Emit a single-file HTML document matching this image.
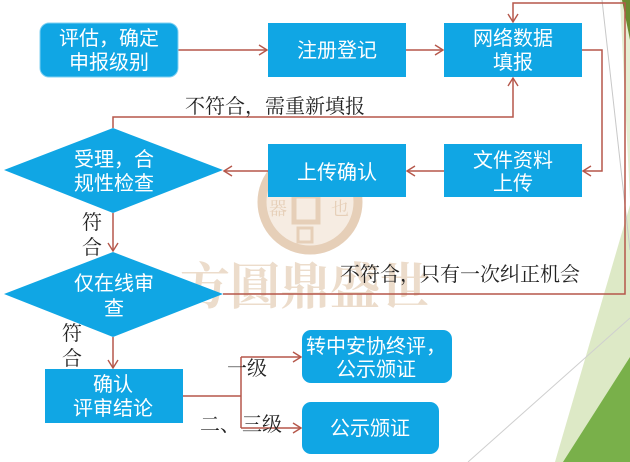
<!DOCTYPE html>
<html><head><meta charset="utf-8"><style>
html,body{margin:0;padding:0;background:#fff;}
svg{display:block;}
.w{font-family:"Liberation Sans","Noto Sans CJK SC",sans-serif;font-size:20px;fill:#fff;text-anchor:middle;}
.l{font-family:"Liberation Serif","Noto Serif CJK SC",serif;font-size:20px;fill:#222;}
</style></head><body>
<svg width="630" height="462" viewBox="0 0 630 462" xmlns="http://www.w3.org/2000/svg">
<defs>
<marker id="a" markerWidth="10" markerHeight="12" refX="9" refY="6" orient="auto" markerUnits="userSpaceOnUse">
<path d="M1,1 L9,6 L1,11" fill="none" stroke="#b5574a" stroke-width="1.4"/>
</marker>
</defs>
<!-- background decorations -->
<polygon points="630,205 630,462 555,462" fill="#dde9c6"/>
<polygon points="630,357 630,462 563,462" fill="#79b04a"/>
<polygon points="620,0 630,0 630,200" fill="#e6eed3"/>
<polygon points="622,0 630,0 630,40" fill="#6a8a30"/>
<line x1="602" y1="0" x2="630" y2="250" stroke="#c8c8c8" stroke-width="1"/>
<line x1="630" y1="318" x2="468" y2="462" stroke="#cfcfcf" stroke-width="1"/>
<!-- watermark -->
<circle cx="310" cy="202" r="48" fill="#f6ece2" stroke="#e6cfb8" stroke-width="9"/>
<rect x="294" y="196" width="24" height="26" fill="none" stroke="#e6cfb8" stroke-width="5"/>
<text x="278" y="215" font-family="Noto Serif CJK SC,serif" font-size="18" fill="#e6cfb8" text-anchor="middle">器</text>
<text x="340" y="215" font-family="Noto Serif CJK SC,serif" font-size="18" fill="#e6cfb8" text-anchor="middle">也</text>
<rect x="298" y="228" width="14" height="14" fill="none" stroke="#e6cfb8" stroke-width="3"/>
<text x="180" y="304" font-family="Noto Serif CJK SC,serif" font-size="50" font-weight="bold" fill="#ecdccb">方圓鼎盛世</text>
<!-- connectors -->
<g fill="none" stroke="#b5574a" stroke-width="1.5">
<line x1="178" y1="50" x2="267" y2="50" marker-end="url(#a)"/>
<line x1="406" y1="50" x2="443" y2="50" marker-end="url(#a)"/>
<polyline points="582,50 602,50 602,171 583,171" marker-end="url(#a)"/>
<line x1="444" y1="171" x2="407" y2="171" marker-end="url(#a)"/>
<line x1="268" y1="171" x2="224" y2="171" marker-end="url(#a)"/>
<polyline points="113,128 113,117 513,117 513,78" marker-end="url(#a)"/>
<line x1="113" y1="213" x2="113" y2="251" marker-end="url(#a)"/>
<polyline points="223,294 625,294 625,3 513,3 513,22" marker-end="url(#a)"/>
<line x1="113" y1="337" x2="113" y2="368" marker-end="url(#a)"/>
<polyline points="183,396 241,396"/>
<polyline points="241,357 241,428"/>
<line x1="241" y1="357" x2="301" y2="357" marker-end="url(#a)"/>
<line x1="241" y1="428" x2="301" y2="428" marker-end="url(#a)"/>
</g>
<!-- nodes -->
<rect x="40" y="23" width="138" height="54" rx="9" fill="#10a6e4" stroke="#7fd0f2" stroke-width="1"/>
<rect x="268" y="23" width="138" height="54" fill="#10a6e4"/>
<rect x="444" y="23" width="138" height="54" fill="#10a6e4"/>
<rect x="444" y="144" width="138" height="53" fill="#10a6e4"/>
<rect x="268" y="144" width="138" height="53" fill="#10a6e4"/>
<polygon points="4,170 113,128 223,170 113,213" fill="#10a6e4"/>
<polygon points="4,294 113,252 223,294 113,337" fill="#10a6e4"/>
<rect x="45" y="369" width="138" height="54" fill="#10a6e4"/>
<rect x="302" y="330" width="150" height="53" rx="9" fill="#10a6e4"/>
<rect x="302" y="402" width="137" height="52" rx="9" fill="#10a6e4"/>
<!-- node text -->
<text class="w" x="109" y="45">评估，确定</text>
<text class="w" x="109" y="69">申报级别</text>
<text class="w" x="337" y="57">注册登记</text>
<text class="w" x="513" y="45">网络数据</text>
<text class="w" x="513" y="69">填报</text>
<text class="w" x="513" y="167">文件资料</text>
<text class="w" x="513" y="190">上传</text>
<text class="w" x="337" y="179">上传确认</text>
<text class="w" x="114" y="166">受理，合</text>
<text class="w" x="114" y="190">规性检查</text>
<text class="w" x="114" y="290">仅在线审</text>
<text class="w" x="114" y="315">查</text>
<text class="w" x="113" y="391">确认</text>
<text class="w" x="113" y="415">评审结论</text>
<text class="w" x="376" y="353">转中安协终评，</text>
<text class="w" x="376" y="376">公示颁证</text>
<text class="w" x="370" y="435">公示颁证</text>
<!-- labels -->
<text class="l" x="185" y="113">不符合，需重新填报</text>
<text class="l" x="340" y="281">不符合，只有一次纠正机会</text>
<text class="l" x="82" y="229">符</text>
<text class="l" x="82" y="254">合</text>
<text class="l" x="62" y="340">符</text>
<text class="l" x="62" y="365">合</text>
<text class="l" x="227" y="375">一级</text>
<text class="l" x="200" y="431">二、</text>
<text class="l" x="242" y="431">三级</text>
</svg>
</body></html>
